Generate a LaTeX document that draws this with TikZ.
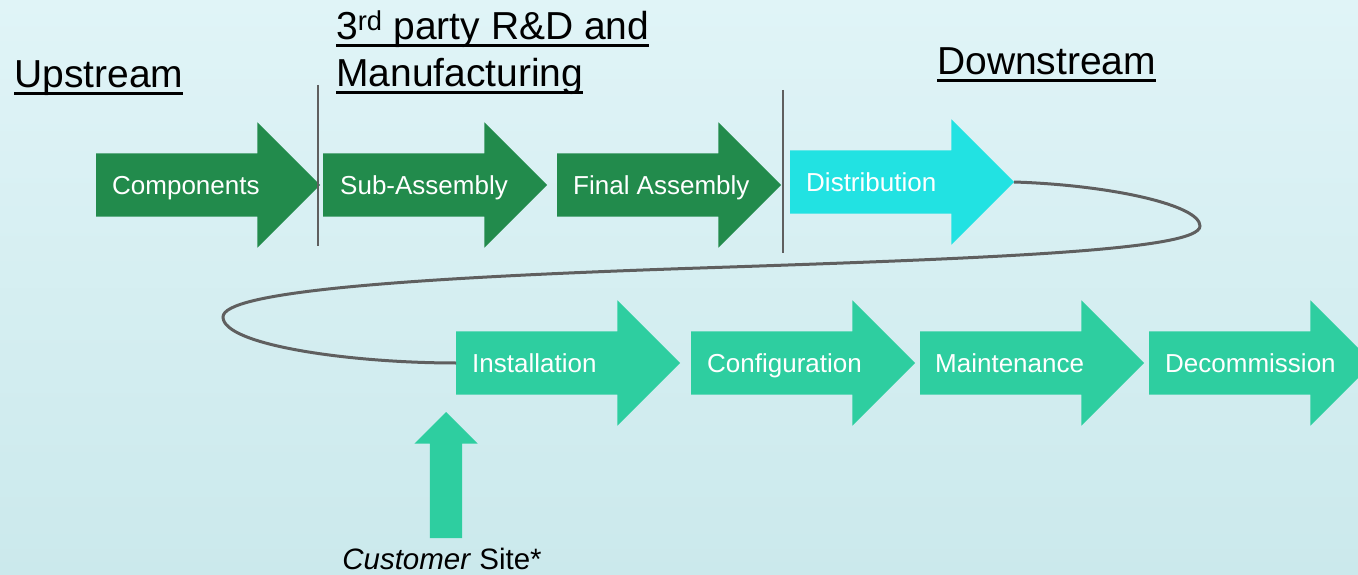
\documentclass[tikz,border=0pt]{standalone}
\usepackage{fontspec}
\setmainfont{Liberation Sans}
\usetikzlibrary{shapes.arrows,positioning}
\definecolor{chaingreen}{RGB}{34,139,76}
\definecolor{chaincyan}{RGB}{34,226,226}
\definecolor{chainteal}{RGB}{46,206,160}
\definecolor{bgtop}{RGB}{224,244,247}
\definecolor{bgbot}{RGB}{203,233,236}
\definecolor{loopgray}{RGB}{95,95,95}
% underline sitting just under the baseline
\newcommand{\ulbar}[1]{\setbox0=\hbox{#1}\rlap{\rule[-7pt]{\wd0}{3pt}}\box0}
\tikzset{
  stage/.style={single arrow, draw=none, minimum height=224pt, inner xsep=0pt,
    inner ysep=31.5pt, single arrow head extend=31pt, outer sep=0pt, anchor=tail},
  stagetext/.style={text=white, inner sep=0pt, text height=18.6pt, text depth=0pt,
    font=\fontsize{26}{31}\selectfont},
  heading/.style={anchor=base west, inner sep=0pt, font=\fontsize{39}{46}\selectfont},
  sepline/.style={draw=loopgray, line width=2pt},
}
\begin{document}
\begin{tikzpicture}[x=1pt,y=-1pt]
\useasboundingbox (0,0) rectangle (1358,575);
\clip (0,0) rectangle (1358,575);
\shade[top color=bgtop, bottom color=bgbot] (0,0) rectangle (1358,575);

% headings
\node[heading] (upst) at (14,88) {\ulbar{Upstream}};
\node[heading] (third) at (336,40) {\ulbar{3\textsuperscript{rd} party R\&D and}};
\node[heading] (manu) at (336,87) {\ulbar{Manufacturing}};
\node[heading] (down) at (937,75) {\ulbar{Downstream}};

% first row
\node[stage, fill=chaingreen] (comp) at (96,185) {};
\node[stage, fill=chaingreen] (sub) at (323,185) {};
\node[stage, fill=chaingreen] (final) at (557,185) {};
\node[stage, fill=chaincyan] (dist) at (790,182) {};
\node[stagetext, right=16pt of comp.tail] {Components};
\node[stagetext, right=17pt of sub.tail] {Sub-Assembly};
\node[stagetext, right=16pt of final.tail] {Final Assembly};
\node[stagetext, right=16pt of dist.tail] {Distribution};

\draw[sepline] (318,85) -- (318,246);
\draw[sepline] (783,90) -- (783,253);

% second row
\node[stage, fill=chainteal] (inst) at (456,363) {};
\node[stage, fill=chainteal] (conf) at (691,363) {};
\node[stage, fill=chainteal] (maint) at (920,363) {};
\node[stage, fill=chainteal] (decom) at (1149,363) {};
\node[stagetext, right=16pt of inst.tail] {Installation};
\node[stagetext, right=16pt of conf.tail] {Configuration};
\node[stagetext, right=15pt of maint.tail] {Maintenance};
\node[stagetext, right=16pt of decom.tail] {Decommission};

% loop from distribution back to installation
\draw[loopgray, line width=3pt] (dist.tip) .. controls (1110,185) and (1200,205) .. (1200,226)
  .. controls (1200,250) and (1000,258) .. (700,268)
  .. controls (400,278) and (223,292) .. (223,317)
  .. controls (223,345) and (350,363) .. (inst.tail);

% customer site
\node[stage, fill=chainteal, rotate=90, minimum height=126pt,
  inner ysep=16pt, single arrow head extend=15.5pt] (cust) at (446,538) {};
\node[anchor=base, inner sep=0pt, font=\fontsize{29.5}{35}\selectfont] (site) at (442,569) {\textit{Customer} Site*};
\end{tikzpicture}
\end{document}
